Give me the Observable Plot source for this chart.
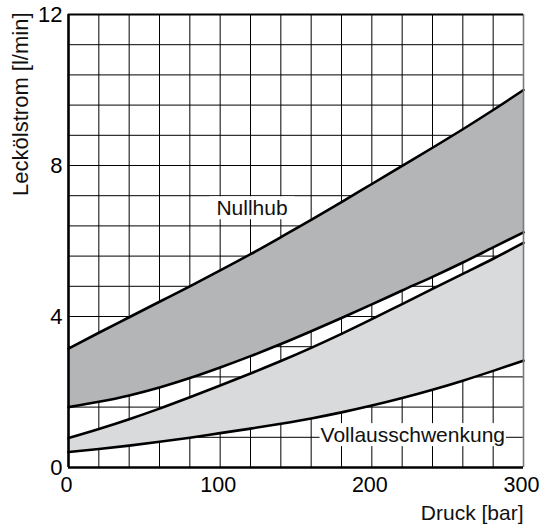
<!DOCTYPE html>
<html>
<head>
<meta charset="utf-8">
<script src="https://cdn.jsdelivr.net/npm/d3@7"></script>
<script src="https://cdn.jsdelivr.net/npm/@observablehq/plot@0.6"></script>
<style>
  html, body { margin: 0; padding: 0; background: #fff; }
  svg { overflow: visible; }
</style>
</head>
<body>
<div id="chart"></div>
<script>
// Druck [bar]
const pressure = [0, 20, 40, 60, 80, 100, 120, 140, 160, 180, 200, 220, 240, 260, 280, 300];
// Leckölstrom [l/min]
const nullhubUpper = [3.15, 3.57, 3.98, 4.39, 4.80, 5.22, 5.65, 6.10, 6.56, 7.03, 7.51, 7.99, 8.47, 8.96, 9.47, 10.0];
const nullhubLower = [1.6, 1.74, 1.91, 2.12, 2.37, 2.65, 2.95, 3.27, 3.61, 3.96, 4.32, 4.69, 5.05, 5.43, 5.83, 6.23];
const vollUpper    = [0.78, 1.02, 1.28, 1.56, 1.86, 2.17, 2.49, 2.82, 3.17, 3.54, 3.93, 4.33, 4.73, 5.13, 5.53, 5.95];
const vollLower    = [0.41, 0.49, 0.58, 0.68, 0.79, 0.91, 1.03, 1.16, 1.30, 1.46, 1.64, 1.84, 2.06, 2.30, 2.56, 2.83];

const xTicks = [0, 100, 200, 300];
const yTicks = [0, 4, 8, 12];
const gridXValues = [0, 20, 40, 60, 80, 100, 120, 140, 160, 180, 200, 220, 240, 260, 280, 300];
const gridYValues = [0, 0.8, 1.6, 2.4, 3.2, 4.0, 4.8, 5.6, 6.4, 7.2, 8.0, 8.8, 9.6, 10.4, 11.2, 12];

const bandLabels = [
  {text: "Nullhub", x: 121, y: 6.86, pad: 7},
  {text: "Vollausschwenkung", x: 227, y: 0.85, pad: 1}
];

const rows = pressure.map((p, i) => ({
  p, nu: nullhubUpper[i], nl: nullhubLower[i], vu: vollUpper[i], vl: vollLower[i]
}));

const curve = "monotone-x";

const chart = Plot.plot({
  width: 539,
  height: 524,
  marginTop: 14,
  marginBottom: 57,
  marginLeft: 68,
  marginRight: 16,
  style: {fontFamily: "'Liberation Sans', Arial, Helvetica, sans-serif", background: "#fff", overflow: "visible"},
  x: {domain: [0, 300]},
  y: {domain: [0, 12]},
  marks: [
    Plot.ruleX(gridXValues, {stroke: "#000", strokeWidth: 1}),
    Plot.ruleY(gridYValues, {stroke: "#000", strokeWidth: 1}),
    Plot.areaY(rows, {x: "p", y1: "nl", y2: "nu", fill: "#b4b5b7", curve}),
    Plot.areaY(rows, {x: "p", y1: "vl", y2: "vu", fill: "#d9dadc", curve}),
    Plot.line(rows, {x: "p", y: "nu", stroke: "#000", strokeWidth: 2.6, curve}),
    Plot.line(rows, {x: "p", y: "nl", stroke: "#000", strokeWidth: 2.6, curve}),
    Plot.line(rows, {x: "p", y: "vu", stroke: "#000", strokeWidth: 2.6, curve}),
    Plot.line(rows, {x: "p", y: "vl", stroke: "#000", strokeWidth: 2.6, curve}),
    Plot.text(bandLabels, {
      x: "x", y: "y", text: "text", fontSize: 21, fill: "#111", className: "band-label"
    }),
    Plot.ruleX([300], {stroke: "#7a7a7a", strokeWidth: 1.6}),
    Plot.ruleY([12], {stroke: "#000", strokeWidth: 1.8}),
    Plot.ruleX([0], {stroke: "#000", strokeWidth: 2.6}),
    Plot.ruleY([0], {stroke: "#000", strokeWidth: 2.6}),
    Plot.axisX({ticks: xTicks, tickSize: 0, tickPadding: 9, fontSize: 21.5, dx: -2, label: null, tickFormat: d => String(d)}),
    Plot.axisY({ticks: yTicks, tickSize: 0, tickPadding: 6, fontSize: 22, label: null, tickFormat: d => String(d)}),
    Plot.text(["Druck [bar]"], {
      frameAnchor: "bottom-right", dy: 52, textAnchor: "end", lineAnchor: "bottom",
      fontSize: 21, fill: "#111"
    }),
    Plot.text(["Leckölstrom [l/min]"], {
      frameAnchor: "top-left", dx: -41, dy: -2, rotate: -90, textAnchor: "end", lineAnchor: "bottom",
      fontSize: 22, fill: "#111"
    })
  ]
});

document.getElementById("chart").appendChild(chart);

// white boxes behind the in-plot band labels (hide grid lines beneath the text)
d3.select(chart).selectAll("g.band-label text").each(function(d, i) {
  const bb = this.getBBox();
  const pad = bandLabels[i] ? bandLabels[i].pad : 3;
  const t = this.getAttribute("transform");
  const r = document.createElementNS("http://www.w3.org/2000/svg", "rect");
  r.setAttribute("x", bb.x - pad);
  r.setAttribute("y", bb.y);
  r.setAttribute("width", bb.width + 2 * pad);
  r.setAttribute("height", bb.height);
  r.setAttribute("fill", "#fff");
  if (t) r.setAttribute("transform", t);
  this.parentNode.insertBefore(r, this);
});
</script>
</body>
</html>
